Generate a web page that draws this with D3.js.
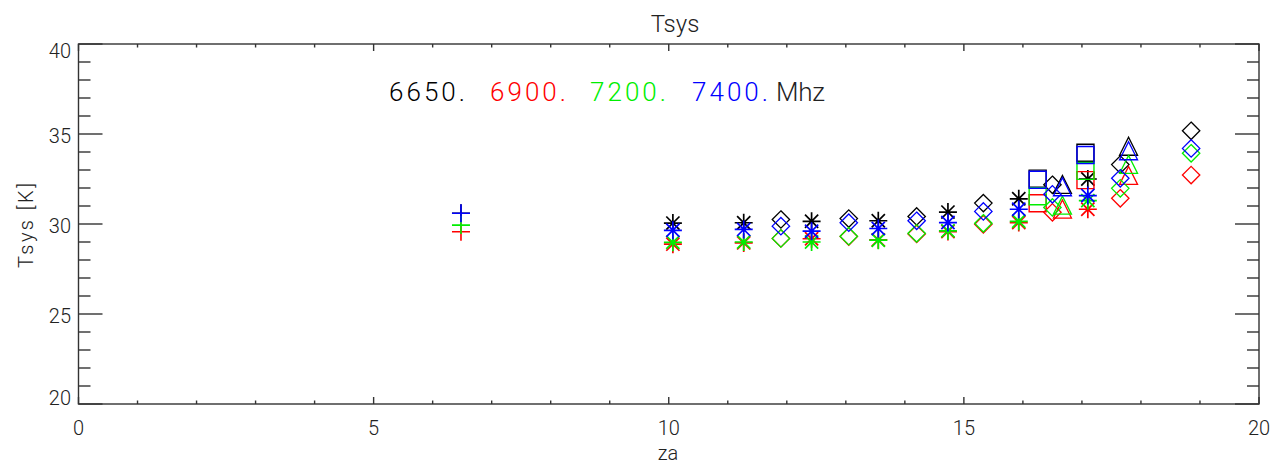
<!DOCTYPE html>
<html>
<head>
<meta charset="utf-8">
<script src="https://cdn.jsdelivr.net/npm/d3@7"></script>
<style>
  html, body { margin: 0; padding: 0; background: #fff; }
  svg { display: block; }
  text { font-family: "Roboto", "DejaVu Sans", sans-serif; font-weight: 300; fill: #222; }
</style>
</head>
<body>
<svg id="chart" width="1275" height="464"></svg>
<script>
// frequencies (legend) and the za of each set of scans
var freqs = ["6650.", "6900.", "7200.", "7400."];
var zaPlus = [6.48];
var zaStar = [10.07, 11.27, 12.42, 13.55, 14.73, 15.93, 17.1];
var zaDiamond = [11.9, 13.05, 14.2, 15.33, 16.5, 17.65, 18.85];
var zaSquare = [16.25, 17.06];
var zaTriangle = [16.67, 17.79];

// Tsys [K], one row per frequency (6650, 6900, 7200, 7400)
var tsysPlus = [[30.6], [29.57], [29.94], [30.6]];
var tsysStar = [
  [30.05, 30.07, 30.15, 30.18, 30.66, 31.4, 32.5],
  [28.88, 28.95, 29.18, 29.12, 29.58, 30.08, 30.82],
  [28.98, 29.0, 29.0, 29.1, 29.62, 30.15, 31.3],
  [29.65, 29.7, 29.6, 29.75, 30.08, 30.82, 31.58]
];
var tsysDiamond = [
  [30.25, 30.3, 30.42, 31.16, 32.18, 33.3, 35.18],
  [29.2, 29.3, 29.45, 29.98, 30.65, 31.43, 32.72],
  [29.2, 29.32, 29.48, 30.04, 30.92, 31.98, 33.93],
  [29.88, 30.07, 30.18, 30.7, 31.65, 32.54, 34.2]
];
var tsysSquare = [[32.52, 33.96], [31.15, 32.44], [31.54, 32.95], [32.46, 33.83]];
var tsysTriangle = [[32.2, 34.32], [30.83, 32.7], [31.05, 33.31], [32.07, 34.07]];

var xTicks = [0, 5, 10, 15, 20];
var yTicks = [20, 25, 30, 35, 40];

var colors = ["#000000", "#ff0000", "#00ee00", "#0000ff"];

var svg = d3.select("#chart");
var pLeft = 78.5, pRight = 1259, pTop = 44, pBottom = 404;

var x = d3.scaleLinear().domain([0, 20]).range([pLeft, pRight]);
var y = d3.scaleLinear().domain([20, 40]).range([pBottom, pTop]);

// idl style open symbols
var plus = { draw: function(c, s) { var r = 9; c.moveTo(-r, 0); c.lineTo(r, 0); c.moveTo(0, -r); c.lineTo(0, r); } };
var star = { draw: function(c, s) {
  var r = 9, d = 6.6;
  c.moveTo(-r, 0); c.lineTo(r, 0); c.moveTo(0, -r); c.lineTo(0, r);
  c.moveTo(-d, -d); c.lineTo(d, d); c.moveTo(-d, d); c.lineTo(d, -d);
} };
var diamond = { draw: function(c, s) { var r = 8.7; c.moveTo(0, -r); c.lineTo(r, 0); c.lineTo(0, r); c.lineTo(-r, 0); c.closePath(); } };
var square = { draw: function(c, s) { var r = 8.5; c.moveTo(-r, -r); c.lineTo(r, -r); c.lineTo(r, r); c.lineTo(-r, r); c.closePath(); } };
var triangle = { draw: function(c, s) { var r = 9; c.moveTo(-r, r); c.lineTo(0, -r); c.lineTo(r, r); c.closePath(); } };

var sets = [
  { za: zaPlus, tsys: tsysPlus, type: plus, w: 1.6 },
  { za: zaStar, tsys: tsysStar, type: star, w: 1.7 },
  { za: zaDiamond, tsys: tsysDiamond, type: diamond, w: 1.3 },
  { za: zaSquare, tsys: tsysSquare, type: square, w: 1.4 },
  { za: zaTriangle, tsys: tsysTriangle, type: triangle, w: 1.3 }
];

// axes: box with ticks on all four sides
var axisG = svg.append("g").attr("stroke", "#333").attr("stroke-width", 1.4).attr("fill", "none");
axisG.append("rect").attr("x", pLeft).attr("y", pTop).attr("width", pRight - pLeft).attr("height", pBottom - pTop);

var xMinor = d3.range(0, 21, 1);
var yMinor = d3.range(20, 41, 1);
xMinor.forEach(function(v) {
  var len = v % 5 == 0 ? 7 : 3.5;
  axisG.append("line").attr("x1", x(v)).attr("x2", x(v)).attr("y1", pBottom).attr("y2", pBottom - len);
  axisG.append("line").attr("x1", x(v)).attr("x2", x(v)).attr("y1", pTop).attr("y2", pTop + len);
});
yMinor.forEach(function(v) {
  var len = v % 5 == 0 ? 24 : 12;
  axisG.append("line").attr("x1", pLeft).attr("x2", pLeft + len).attr("y1", y(v)).attr("y2", y(v));
  axisG.append("line").attr("x1", pRight).attr("x2", pRight - len).attr("y1", y(v)).attr("y2", y(v));
});

svg.selectAll(".xlab").data(xTicks).enter().append("text")
  .attr("x", function(d) { return x(d); })
  .attr("y", 435)
  .attr("text-anchor", "middle")
  .attr("font-size", 20)
  .text(function(d) { return d; });

svg.selectAll(".ylab").data(yTicks).enter().append("text")
  .attr("x", 71)
  .attr("y", function(d) { return Math.max(51, Math.min(398, y(d) + 2)) + 7.3; })
  .attr("text-anchor", "end")
  .attr("font-size", 20)
  .text(function(d) { return d; });

svg.append("text").attr("x", 675).attr("y", 32).attr("text-anchor", "middle")
  .attr("font-size", 24).text("Tsys");
svg.append("text").attr("x", 668).attr("y", 460).attr("text-anchor", "middle")
  .attr("font-size", 20).text("za");
svg.append("text").attr("transform", "translate(33,225.5) rotate(-90)")
  .attr("text-anchor", "middle").attr("font-size", 20)
  .attr("textLength", 85).attr("lengthAdjust", "spacing")
  .text("Tsys [K]");

// legend
var legX = [389, 490, 590, 692];
freqs.forEach(function(f, i) {
  svg.append("text").attr("x", legX[i]).attr("y", 100.5)
    .attr("font-size", 26)
    .attr("textLength", 76).attr("lengthAdjust", "spacing")
    .style("fill", colors[i])
    .text(f);
});
svg.append("text").attr("x", 776).attr("y", 100.5).attr("font-size", 26)
  .attr("textLength", 49).attr("lengthAdjust", "spacing")
  .text("Mhz");

// data points
freqs.forEach(function(f, i) {
  var g = svg.append("g").attr("fill", "none").attr("stroke", colors[i]);
  sets.forEach(function(s) {
    var pts = s.za.map(function(z, k) { return [z, s.tsys[i][k]]; });
    g.selectAll(null).data(pts).enter().append("path")
      .attr("stroke-width", s.w)
      .attr("transform", function(d) { return "translate(" + x(d[0]) + "," + y(d[1]) + ")"; })
      .attr("d", d3.symbol().type(s.type));
  });
});
</script>
</body>
</html>
